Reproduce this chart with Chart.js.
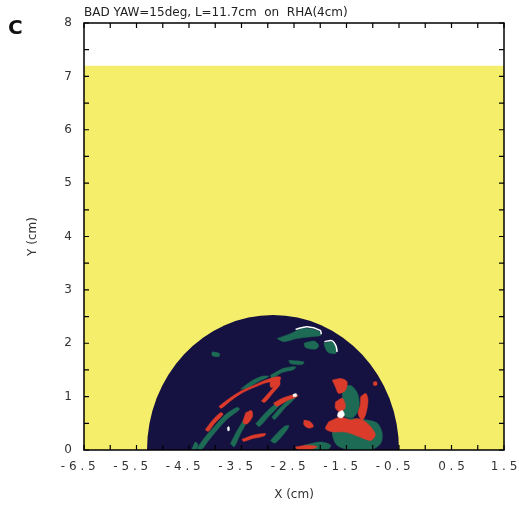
<!DOCTYPE html>
<html>
<head>
<meta charset="utf-8">
<script src="https://cdn.jsdelivr.net/npm/chart.js@4.4.1/dist/chart.umd.min.js"></script>
<style>
    html, body { margin: 0; padding: 0; background: #fff; }
    #wrap { position: relative; width: 519px; height: 508px; }
    #panel { position: absolute; left: 8px; top: 15px; font: bold 20px 'DejaVu Sans', sans-serif; color: #111; }
</style>
</head>
<body>
<div id="wrap">
    <div id="panel">C</div>
    <canvas id="mapChart" width="519" height="508"></canvas>
</div>
<script>
// Axis ranges and tick spacing (cm)
const xRange = [-6.5, 1.5];
const yRange = [0, 8];
const tickStep = 0.5;

// Top edge of the yellow field
const fieldEdge = [[-6.5, 7.2], [1.5, 7.2]];

// Half disc (RHA footprint)
const discCenter = [-2.9, 0];
const discRadius = [2.4, 2.53];

// Patches, as outlines [x, y]
const greenPatches = [
    [[-2.82, 2.09], [-2.57, 2.18], [-2.31, 2.28], [-2.03, 2.23], [-1.99, 2.15], [-2.19, 2.12], [-2.44, 2.09], [-2.70, 2.03]],
    [[-2.31, 2.0], [-2.12, 2.04], [-2.03, 1.96], [-2.09, 1.89], [-2.28, 1.92]],
    [[-1.93, 2.0], [-1.77, 2.03], [-1.68, 1.9], [-1.71, 1.81], [-1.84, 1.82], [-1.90, 1.90]],
    [[-4.06, 1.84], [-3.92, 1.81], [-3.93, 1.75], [-4.06, 1.77]],
    [[-2.95, 1.40], [-2.70, 1.53], [-2.47, 1.56], [-2.50, 1.51], [-2.73, 1.45], [-2.92, 1.34]],
    [[-1.58, 1.18], [-1.42, 1.21], [-1.29, 1.06], [-1.26, 0.81], [-1.36, 0.62], [-1.52, 0.62], [-1.61, 0.75], [-1.58, 0.93]],
    [[-1.71, 0.56], [-1.42, 0.59], [-1.10, 0.56], [-0.91, 0.50], [-0.82, 0.31], [-0.85, 0.12], [-1.04, 0], [-1.42, 0], [-1.68, 0.09], [-1.77, 0.31]],
    [[-2.31, 0.09], [-1.99, 0.15], [-1.80, 0.09], [-1.87, 0], [-2.25, 0]],
    [[-2.6, 1.68], [-2.31, 1.65], [-2.35, 1.60], [-2.57, 1.62]],
    [[-4.35, 0.03], [-4.19, 0.25], [-4.0, 0.46], [-3.81, 0.66], [-3.58, 0.80], [-3.54, 0.76], [-3.76, 0.59], [-3.95, 0.39], [-4.14, 0.16], [-4.27, 0]],
    [[-3.52, 1.14], [-3.33, 1.28], [-3.11, 1.38], [-2.98, 1.38], [-3.2, 1.27], [-3.39, 1.16]],
    [[-3.71, 0.12], [-3.58, 0.37], [-3.39, 0.66], [-3.31, 0.73], [-3.38, 0.56], [-3.53, 0.28], [-3.64, 0.06]],
    [[-3.23, 0.49], [-3.01, 0.73], [-2.76, 0.93], [-2.77, 0.85], [-2.97, 0.64], [-3.16, 0.44]],
    [[-2.92, 0.62], [-2.70, 0.86], [-2.50, 1.02], [-2.48, 0.97], [-2.67, 0.79], [-2.87, 0.57]],
    [[-2.95, 0.18], [-2.70, 0.43], [-2.60, 0.46], [-2.63, 0.38], [-2.86, 0.13]],
    [[-4.45, 0], [-4.38, 0.15], [-4.33, 0.1], [-4.38, 0]]
];

const redPatches = [
    [[-3.93, 0.82], [-3.74, 0.96], [-3.52, 1.10], [-3.27, 1.21], [-3.01, 1.32], [-2.76, 1.37], [-2.77, 1.31], [-3.03, 1.26], [-3.29, 1.16], [-3.52, 1.05], [-3.72, 0.91], [-3.89, 0.78]],
    [[-3.12, 0.92], [-2.93, 1.13], [-2.78, 1.30], [-2.77, 1.22], [-2.90, 1.07], [-3.06, 0.89]],
    [[-2.95, 1.34], [-2.80, 1.37], [-2.77, 1.29], [-2.89, 1.18], [-2.95, 1.18]],
    [[-2.89, 0.88], [-2.70, 0.98], [-2.47, 1.04], [-2.42, 1.01], [-2.64, 0.92], [-2.83, 0.82]],
    [[-1.77, 1.31], [-1.61, 1.34], [-1.49, 1.28], [-1.52, 1.12], [-1.65, 1.06], [-1.71, 1.18]],
    [[-1.71, 0.9], [-1.58, 0.97], [-1.52, 0.81], [-1.61, 0.71], [-1.71, 0.78]],
    [[-1.23, 1.0], [-1.13, 1.06], [-1.09, 0.93], [-1.13, 0.68], [-1.20, 0.56], [-1.28, 0.68], [-1.24, 0.84]],
    [[-1.84, 0.53], [-1.61, 0.62], [-1.42, 0.56], [-1.29, 0.59], [-1.14, 0.53], [-1.01, 0.40], [-0.95, 0.28], [-1.04, 0.18], [-1.26, 0.25], [-1.42, 0.31], [-1.58, 0.34], [-1.77, 0.34], [-1.90, 0.40]],
    [[-2.31, 0.56], [-2.19, 0.53], [-2.13, 0.44], [-2.22, 0.41], [-2.31, 0.47]],
    [[-2.47, 0.06], [-2.22, 0.09], [-2.06, 0.06], [-2.19, 0.01], [-2.44, 0.01]],
    [[-4.19, 0.38], [-4.06, 0.55], [-3.90, 0.70], [-3.85, 0.67], [-4.01, 0.50], [-4.13, 0.35]],
    [[-3.42, 0.70], [-3.31, 0.74], [-3.29, 0.63], [-3.39, 0.49], [-3.47, 0.51]],
    [[-3.49, 0.20], [-3.27, 0.28], [-3.04, 0.31], [-3.07, 0.26], [-3.30, 0.21], [-3.46, 0.16]],
    [[-0.99, 1.27], [-0.93, 1.28], [-0.92, 1.22], [-0.98, 1.21]]
];

const whitePatches = [
    [[-1.66, 0.70], [-1.58, 0.74], [-1.54, 0.66], [-1.60, 0.60], [-1.67, 0.63]],
    [[-3.77, 0.42], [-3.74, 0.44], [-3.73, 0.37], [-3.76, 0.36]],
    [[-2.52, 1.04], [-2.46, 1.06], [-2.45, 1.01], [-2.51, 1.0]]
];

const whiteEdges = [
    [[-2.47, 2.26], [-2.25, 2.31], [-2.0, 2.24], [-1.98, 2.17]],
    [[-1.92, 2.03], [-1.78, 2.05], [-1.70, 1.95], [-1.68, 1.84]]
];

const YELLOW = '#f5ee6a';
const NAVY = '#151141';
const GREEN = '#1e6b55';
const RED = '#da3b2a';

const toPts = arr => arr.map(([x, y]) => ({ x, y }));
const closed = arr => toPts(arr.concat([arr[0]]));

function patch(outline, color, order) {
    return {
        data: closed(outline),
        fill: 'shape',
        backgroundColor: color,
        borderColor: color,
        borderWidth: 0.5,
        pointRadius: 0,
        tension: 0.3,
        order: order
    };
}

const datasets = [{
    label: 'field',
    data: toPts(fieldEdge),
    fill: 'origin',
    backgroundColor: YELLOW,
    borderWidth: 0,
    pointRadius: 0,
    order: 10
}];
greenPatches.forEach(p => datasets.push(patch(p, GREEN, 3)));
redPatches.forEach(p => datasets.push(patch(p, RED, 2)));
whitePatches.forEach(p => datasets.push(patch(p, '#ffffff', 1)));
whiteEdges.forEach(p => datasets.push({
    data: toPts(p), fill: false, borderColor: '#ffffff', borderWidth: 1.5, pointRadius: 0, tension: 0.3, order: 0
}));

// disc after the yellow field, frame + inward ticks + heading at the end
const framePlugin = {
    id: 'frame',
    afterDatasetDraw(chart, args) {
        if (args.index !== 0) return;
        const { ctx, chartArea, scales: { x, y } } = chart;
        const cx = x.getPixelForValue(discCenter[0]);
        const cy = y.getPixelForValue(discCenter[1]);
        const rx = x.getPixelForValue(discCenter[0] + discRadius[0]) - cx;
        const ry = cy - y.getPixelForValue(discCenter[1] + discRadius[1]);
        ctx.save();
        ctx.beginPath();
        ctx.rect(chartArea.left, chartArea.top, chartArea.width, chartArea.height);
        ctx.clip();
        ctx.beginPath();
        ctx.ellipse(cx, cy, rx, ry, 0, Math.PI, 2 * Math.PI);
        ctx.closePath();
        ctx.fillStyle = NAVY;
        ctx.fill();
        ctx.restore();
    },
    afterDraw(chart) {
        const { ctx, chartArea: a, scales: { x, y } } = chart;
        const len = 5;
        ctx.save();
        ctx.strokeStyle = '#000';
        ctx.lineWidth = 1.2;
        ctx.beginPath();
        x.ticks.forEach(t => {
            const px = x.getPixelForValue(t.value);
            ctx.moveTo(px, a.bottom); ctx.lineTo(px, a.bottom - len);
            ctx.moveTo(px, a.top); ctx.lineTo(px, a.top + len);
        });
        y.ticks.forEach(t => {
            const py = y.getPixelForValue(t.value);
            ctx.moveTo(a.left, py); ctx.lineTo(a.left + len, py);
            ctx.moveTo(a.right, py); ctx.lineTo(a.right - len, py);
        });
        ctx.stroke();
        ctx.lineWidth = 1.5;
        ctx.strokeRect(a.left, a.top, a.width, a.height);

        ctx.fillStyle = '#222';
        ctx.font = '12px "DejaVu Sans", sans-serif';
        ctx.textAlign = 'left';
        ctx.textBaseline = 'bottom';
        ctx.fillText('BAD YAW=15deg, L=11.7cm  on  RHA(4cm)', a.left, a.top - 4);
        ctx.restore();
    }
};

const xLabel = v => {
    if (!Number.isInteger(v - 0.5)) return '';
    const digits = Math.abs(v).toFixed(1).split('').join(' ');
    return v < 0 ? '- ' + digits + '   ' : digits;
};

new Chart(document.getElementById('mapChart'), {
    type: 'line',
    data: { datasets: datasets },
    options: {
        responsive: false,
        animation: false,
        events: [],
        layout: { padding: { top: 23, right: 15, left: 0, bottom: 0 } },
        plugins: {
            legend: { display: false },
            tooltip: { enabled: false }
        },
        scales: {
            x: {
                type: 'linear',
                min: xRange[0],
                max: xRange[1],
                afterFit: s => { s.height = 58; s.paddingRight = 0; s.paddingLeft = 0; },
                grid: { drawOnChartArea: false, drawTicks: false },
                border: { display: false },
                ticks: {
                    stepSize: tickStep,
                    autoSkip: false,
                    maxRotation: 0,
                    padding: 10,
                    color: '#333',
                    font: { family: 'DejaVu Sans', size: 12 },
                    callback: xLabel
                },
                title: {
                    display: true,
                    text: 'X (cm)',
                    color: '#333',
                    font: { family: 'DejaVu Sans', size: 12 },
                    padding: { top: 0, bottom: 6 }
                }
            },
            y: {
                type: 'linear',
                min: yRange[0],
                max: yRange[1],
                afterFit: s => { s.width = 84; },
                grid: { drawOnChartArea: false, drawTicks: false },
                border: { display: false },
                ticks: {
                    stepSize: tickStep,
                    autoSkip: false,
                    padding: 12,
                    color: '#333',
                    font: { family: 'DejaVu Sans', size: 12 },
                    callback: v => Number.isInteger(v) ? v : ''
                },
                title: {
                    display: true,
                    text: 'Y (cm)',
                    color: '#333',
                    font: { family: 'DejaVu Sans', size: 12 },
                    padding: { top: 26, bottom: 0 }
                }
            }
        }
    },
    plugins: [framePlugin]
});
</script>
</body>
</html>
